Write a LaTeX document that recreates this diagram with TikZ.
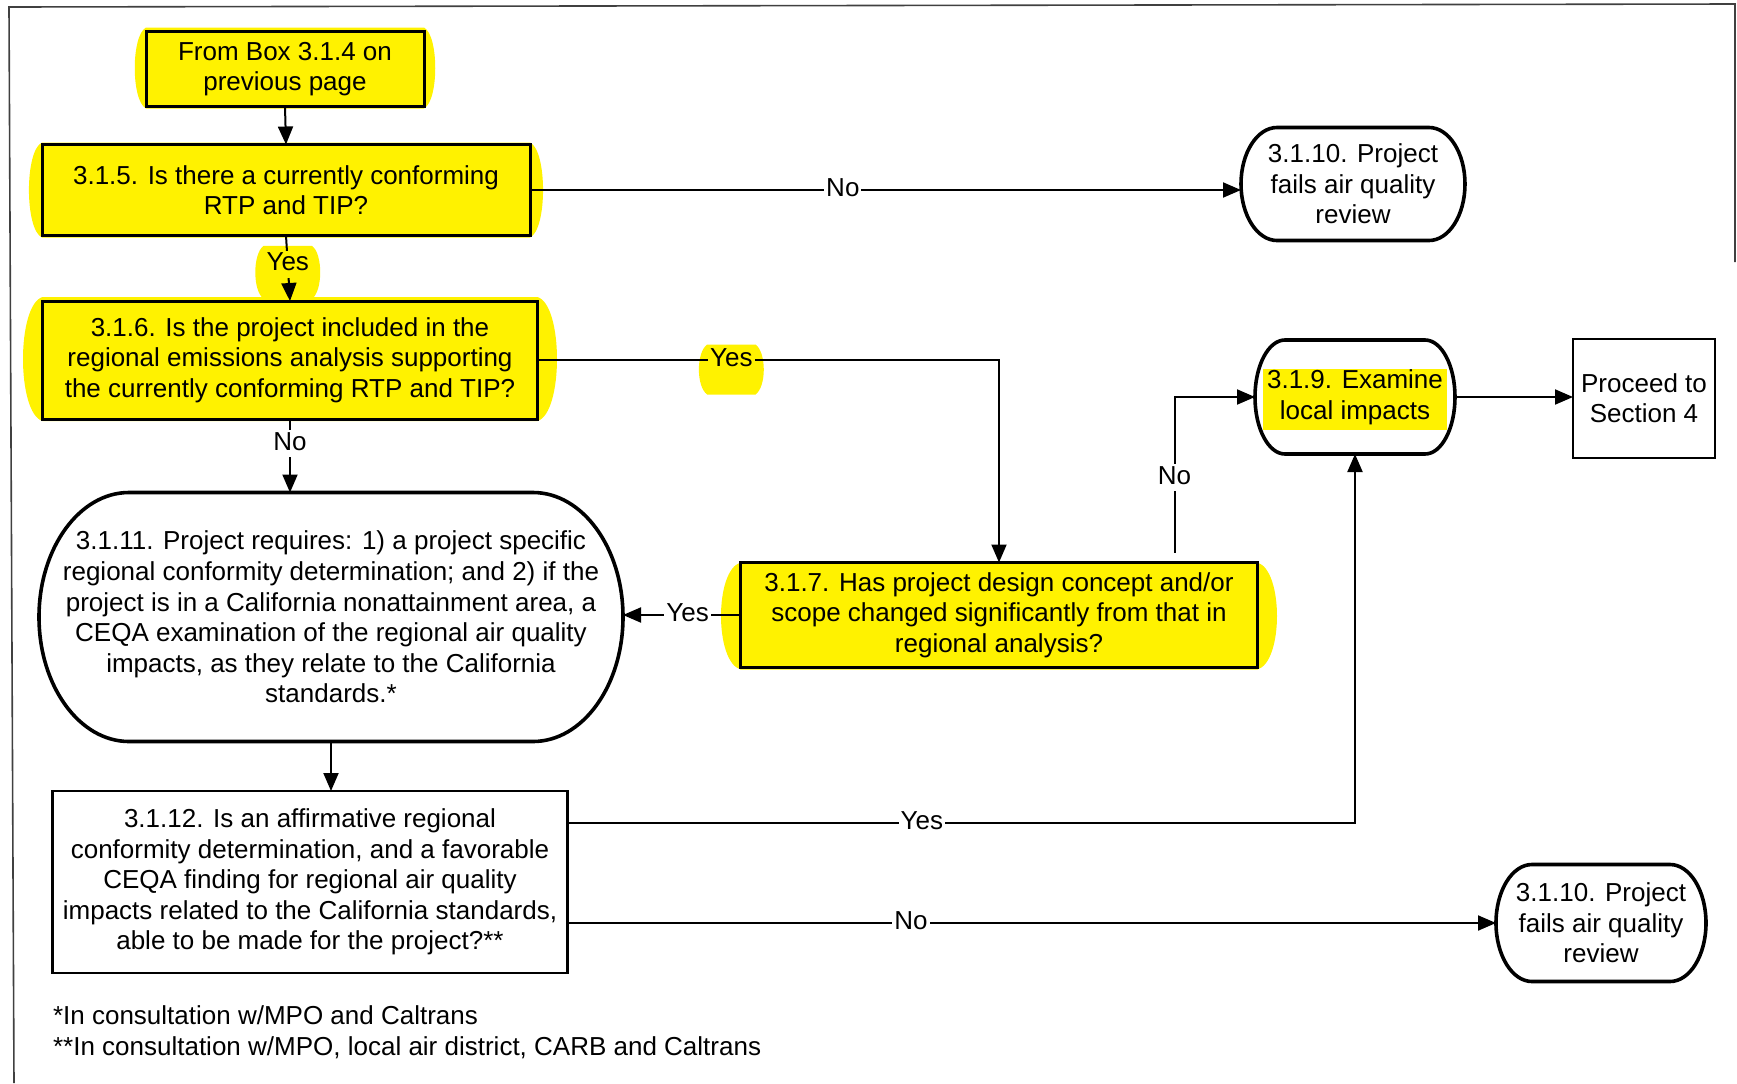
\documentclass[tikz,border=0pt]{standalone}
\usepackage{fontspec}
\setmainfont{Liberation Sans}
\usetikzlibrary{arrows.meta,calc}
\pgfdeclarelayer{background}
\pgfsetlayers{background,main}
\tikzstyle{question} = [draw, line width=1.5pt, fill=yellow, align=center,
  inner ysep=2pt, outer sep=0pt]
\tikzstyle{plainbox} = [draw, line width=1.1pt, fill=white, align=center,
  outer sep=0pt]
\tikzstyle{terminal} = [align=center, outer sep=0pt]
\tikzstyle{answer} = [fill=white, inner sep=1pt, text height=9pt, text depth=2.5pt]
\tikzstyle{line} = [draw, line width=1pt, -{Triangle[length=9pt,width=7.5pt]}]
\tikzstyle{pageframe} = [draw, line width=0.8pt, color=black!75]
\newcommand{\flowbox}[3]{node (q#1) [#2] {#3}}
\newcommand{\halo}[4]{%
  \begin{pgfonlayer}{background}
    % Yellow marker behind the node, bulging out at the sides
    \path[fill=yellow] ([yshift=#3]#1.north west) -- ([yshift=#3]#1.north east)
      .. controls +(#2,-4pt) and +(#2,4pt) .. ([yshift=-#4]#1.south east)
      -- ([yshift=-#4]#1.south west)
      .. controls +(-#2,4pt) and +(-#2,-4pt) .. cycle;
  \end{pgfonlayer}}
\newcommand{\stadium}[2]{%
  % Outline with elliptic ends round a terminal node
  \draw[line width=1.8pt] ([xshift=#2]#1.north west) -- ([xshift=-#2]#1.north east)
    .. controls ([xshift={-0.448*#2}]#1.north east) and ($(#1.east)!0.552!(#1.north east)$) .. (#1.east)
    .. controls ($(#1.east)!0.552!(#1.south east)$) and ([xshift={-0.448*#2}]#1.south east) .. ([xshift=-#2]#1.south east)
    -- ([xshift=#2]#1.south west)
    .. controls ([xshift={0.448*#2}]#1.south west) and ($(#1.west)!0.552!(#1.south west)$) .. (#1.west)
    .. controls ($(#1.west)!0.552!(#1.north west)$) and ([xshift={0.448*#2}]#1.north west) .. cycle;}

\begin{document}
\begin{tikzpicture}[x=0.5pt, y=-0.5pt,
  every node/.style={font=\fontsize{13}{15.3}\selectfont}]

\useasboundingbox (0,0) rectangle (1737,1083);
\draw[pageframe] (14,1083) -- (9,7) -- (1735,4) -- (1735,262);

% Draw diagram elements
\path (285,69)       \flowbox{4}{question, minimum width=139pt, minimum height=37.5pt}
  {From Box 3.1.4 on\\previous page};
\path (q4)+(1,121)   \flowbox{5}{question, minimum width=244pt, minimum height=45.5pt}
  {3.1.5. Is there a currently conforming\\RTP and TIP?};
\path (q5)+(4,170)   \flowbox{6}{question, minimum width=247.5pt, minimum height=59pt}
  {3.1.6. Is the project included in the\\regional emissions analysis supporting\\the currently conforming RTP and TIP?};
\path (q6)+(41,257)  \flowbox{11}{terminal, minimum width=292pt, minimum height=124.5pt}
  {3.1.11. Project requires: 1) a project specific\\regional conformity determination; and 2) if the\\project is in a California nonattainment area, a\\CEQA examination of the regional air quality\\impacts, as they relate to the California\\standards.*};
\path (q11)+(-21,265) \flowbox{12}{plainbox, minimum width=257.5pt, minimum height=91pt}
  {3.1.12. Is an affirmative regional\\conformity determination, and a favorable\\CEQA finding for regional air quality\\impacts related to the California standards,\\able to be made for the project?**};
\path (q6)+(709,255) \flowbox{7}{question, minimum width=258.5pt, minimum height=52.5pt}
  {3.1.7. Has project design concept and/or\\scope changed significantly from that in\\regional analysis?};
\path (q5)+(1067,-6) \flowbox{10a}{terminal, minimum width=112pt, minimum height=56.5pt}
  {3.1.10. Project\\fails air quality\\review};
\path (q10a)+(2,213) \flowbox{9}{terminal, minimum width=100pt, minimum height=57pt}
  {3.1.9. Examine\\local impacts};
\path (q9)+(289,1)   \flowbox{sec}{plainbox, line width=1pt, minimum width=71pt, minimum height=59.5pt}
  {Proceed to\\Section 4};
\path (q12)+(1291,41) \flowbox{10b}{terminal, minimum width=105pt, minimum height=58.5pt}
  {3.1.10. Project\\fails air quality\\review};

\path (q12.south west)+(-6.5,59) node (notes) [anchor=west, align=left]
  {*In consultation w/MPO and Caltrans\\**In consultation w/MPO, local air district, CARB and Caltrans};

% Outlines of the terminal nodes
\stadium{q11}{45pt}
\stadium{q10a}{18pt}
\stadium{q9}{15pt}
\stadium{q10b}{18pt}
\begin{pgfonlayer}{background}
  \fill[yellow] ([xshift=4pt,yshift=-14.5pt]q9.north west) rectangle ([xshift=-4pt,yshift=12pt]q9.south east);
\end{pgfonlayer}

% Draw arrows between elements
\path [line] (q4.south) -- (q5.north);
\path [line] (q5.south) -- node [answer, fill=yellow, pos=0.44] (y1) {Yes} (q6.north);
\path [line] (q5.east) -- node [answer, pos=0.44] {No} (q5.east -| q10a.west);

\path [line] (q6.east) -| node [answer, fill=yellow, pos=0.21] (y2) {Yes} (q7.north);
\path [line] (q6.south) -- node [answer, pos=0.34] {No} (q6.south |- q11.north);

\path [line] (q7.west) -- node [answer, pos=0.45] {Yes} (q7.west -| q11.east);
\path [line] ([xshift=-41.5pt,yshift=5pt]q7.north east) |- node [answer, pos=0.24] {No} (q9.west);
\path [line] (q9.east) -- (q9.east -| qsec.west);

\path [line] (q11.south) -- (q11.south |- q12.north);
\path [line] ([yshift=-16pt]q12.north east) -| node [answer, pos=0.225] {Yes} (q9.south);
\path [line] (q12.east |- q10b.west) -- node [answer, pos=0.37] {No} (q10b.west);

% Yellow highlighting
\halo{q4}{7.5pt}{2pt}{1pt}
\halo{q5}{8.7pt}{1pt}{1pt}
\halo{q6}{13pt}{2pt}{1pt}
\halo{q7}{13pt}{0pt}{1pt}
\halo{y1}{5.5pt}{2pt}{10pt}
\halo{y2}{5.5pt}{0.5pt}{10pt}

\end{tikzpicture}
\end{document}
